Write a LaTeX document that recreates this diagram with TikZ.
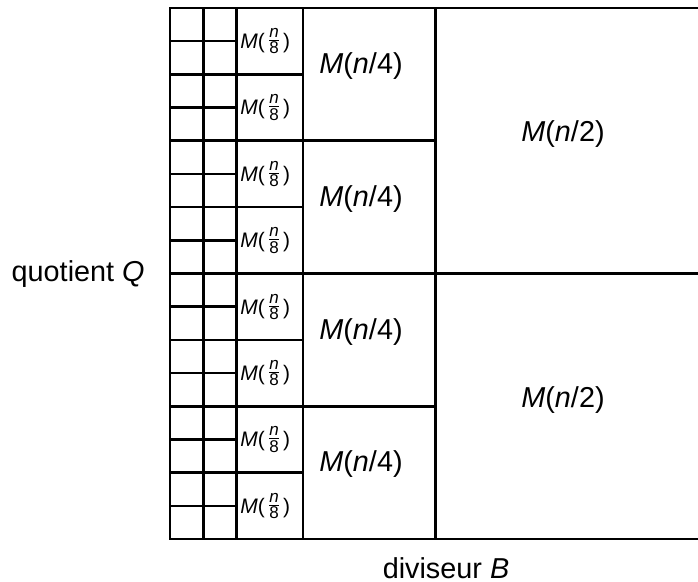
\documentclass[tikz,border=0pt]{standalone}
\usepackage{amsmath}
\usepackage{fontspec}
\setmainfont{Liberation Sans}
\newcommand{\myfracpart}[1]{\mbox{\fontsize{8.5}{9}\selectfont #1}}
\newcommand{\myeighth}{\textit{M}(\kern1pt\raisebox{1.2pt}{$\genfrac{}{}{0.5pt}{1}{\myfracpart{\textit{n}}}{\myfracpart{8}}$}\kern1pt)}
\begin{document}
\begin{tikzpicture}[x=0.5pt,y=-0.5pt,
  gridline/.style={line width=1.3pt, line cap=rect},
  biglabel/.style={font=\fontsize{14.4}{16}\selectfont, inner sep=0pt},
  smalllabel/.style={font=\fontsize{10.5}{12}\selectfont, inner sep=0pt, anchor=west}]
\useasboundingbox (0,0) rectangle (698,582);
% horizontal lines
\foreach \k in {0,...,16}{
  \pgfmathsetmacro{\yy}{8+33.2*\k}
  \pgfmathtruncatemacro{\ma}{mod(\k,8)}
  \pgfmathtruncatemacro{\mb}{mod(\k,4)}
  \pgfmathtruncatemacro{\mc}{mod(\k,2)}
  \pgfmathsetmacro{\xe}{\ma==0 ? 698 : (\mb==0 ? 435.6 : (\mc==0 ? 302.8 : 236.4))}
  \draw[gridline] (170,\yy) -- (\xe,\yy);
}
% vertical lines
\foreach \xx in {170,203.2,236.4,302.8,435.6}{
  \draw[gridline] (\xx,8) -- (\xx,539.2);
}
% M(n/8) labels
\foreach \i in {0,...,7}{
  \pgfmathsetmacro{\yy}{8+66.4*\i+33.2}
  \node[smalllabel] (e\i) at (240,\yy) {\myeighth};
}
% M(n/4) labels
\foreach \i in {0,...,3}{
  \pgfmathsetmacro{\yy}{8+132.8*\i+58}
  \node[biglabel] (q\i) at (361,\yy) {\textit{M}(\textit{n}/4)};
}
% M(n/2) labels
\node[biglabel] (h0) at (563,134) {\textit{M}(\textit{n}/2)};
\node[biglabel] (h1) at (563,400) {\textit{M}(\textit{n}/2)};
% axis labels
\node[biglabel, anchor=east] (quot) at (145,274) {quotient \textit{Q}};
\node[biglabel] (div) at (446,568) {diviseur \textit{B}};
\end{tikzpicture}
\end{document}
